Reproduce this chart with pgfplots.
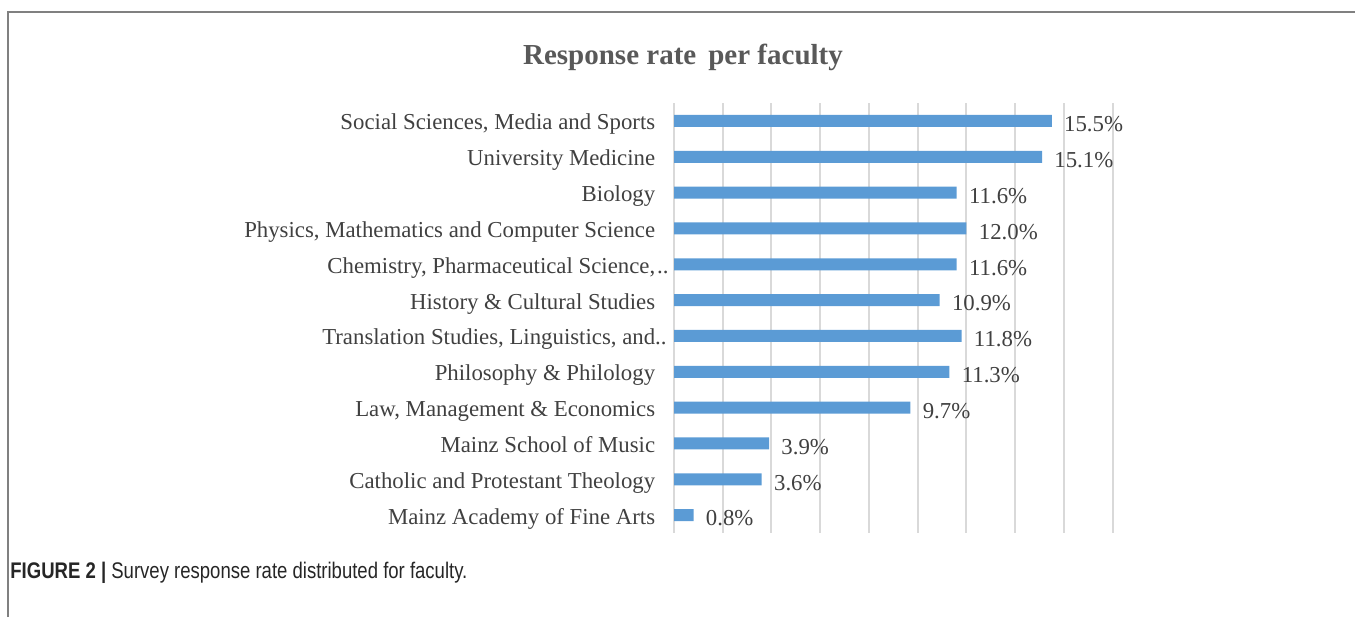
\documentclass[border=0pt]{standalone}
\usepackage{fontspec}
\setmainfont{Liberation Serif}
\newfontfamily\capfont[FakeStretch=0.82]{Liberation Sans}
\usepackage{pgfplots}
\pgfplotsset{compat=1.18}
\definecolor{barblue}{HTML}{5B9BD5}
\definecolor{gridgray}{HTML}{D9D9D9}
\definecolor{textgray}{HTML}{404040}
\definecolor{titlegray}{HTML}{595959}
\definecolor{framegray}{HTML}{808080}
\begin{document}
\begin{tikzpicture}[x=0.5pt,y=0.5pt]
\path[use as bounding box] (0,0) rectangle (1355,617);
% frame (left and top edges)
\draw[framegray, line width=1pt] (8,0) -- (8,605) -- (1355,605);
% title
\node[font=\fontsize{14.5}{16}\selectfont\bfseries, text=titlegray] at (683,560) {Response rate\, per faculty};
% caption
\node[anchor=base west, inner sep=0pt, font=\capfont\fontsize{11.3}{13}\selectfont, text=black!85] at (10,39) {\textbf{FIGURE 2 |} Survey response rate distributed for faculty.};
\begin{axis}[
  at={(337pt,42pt)}, anchor=south west,
  scale only axis, width=219.35pt, height=215pt,
  xbar, bar width=6pt,
  xmin=0, xmax=18, ymin=-0.5, ymax=11.5,
  y dir=reverse,
  xtick={0,2,...,18}, xticklabels={},
  xmajorgrids, grid style={color=gridgray, line width=1pt},
  axis line style={draw=none},
  major tick length=0pt,
  ytick={0,...,11},
  yticklabels={{Social Sciences, Media and Sports}, {University Medicine}, {Biology}, {Physics, Mathematics and Computer Science}, {Chemistry, Pharmaceutical Science,\rlap{\kern1pt..}}, {History \& Cultural Studies}, {Translation Studies, Linguistics, and\rlap{..}}, {Philosophy \& Philology}, {Law, Management \& Economics}, {Mainz School of Music}, {Catholic and Protestant Theology}, {Mainz Academy of Fine Arts}},
  yticklabel style={font=\fontsize{11.4}{13}\selectfont, text=textgray, anchor=base east, inner sep=0pt, xshift=-9.2pt, yshift=-4.5pt},
  /pgf/number format/assume math mode=true,
  nodes near coords={\pgfmathprintnumber[fixed,fixed zerofill,precision=1,assume math mode=true]{\pgfplotspointmeta}\%},
  nodes near coords style={font=\fontsize{11.4}{13}\selectfont, text=textgray, anchor=base west, inner sep=0pt, xshift=6pt, yshift=-5.4pt},
  point meta=x,
  clip=false,
]
\addplot[fill=barblue, draw=none] coordinates {
(15.5,0) (15.1,1) (11.6,2) (12.0,3) (11.6,4) (10.9,5) (11.8,6) (11.3,7) (9.7,8) (3.9,9) (3.6,10) (0.8,11)
};
\end{axis}
\end{tikzpicture}
\end{document}
